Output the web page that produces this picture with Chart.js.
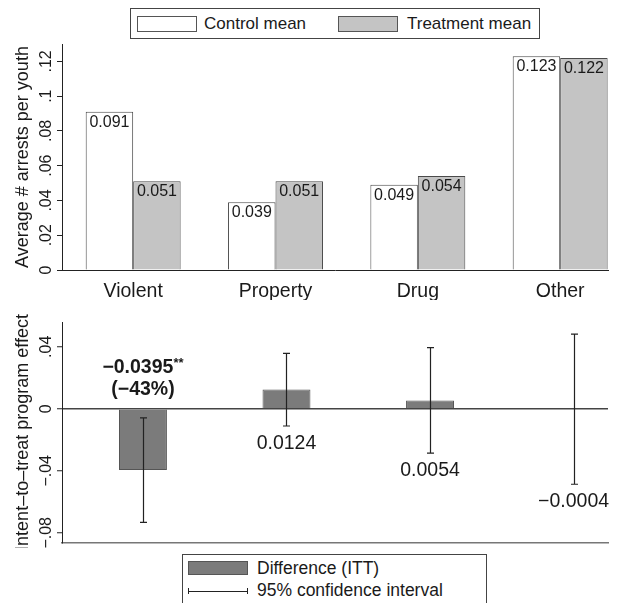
<!DOCTYPE html>
<html>
<head>
<meta charset="utf-8">
<script src="https://cdn.jsdelivr.net/npm/chart.js@4.4.1/dist/chart.umd.min.js"></script>
<style>
body { margin: 0; background: #fff; font-family: "Liberation Sans", Arial, sans-serif; color: #1a1a1a; }
#wrap { position: relative; width: 621px; height: 603px; overflow: hidden; background: #fff; }
canvas { position: absolute; left: 0; }
.box { position: absolute; border: 1px solid #444; box-sizing: border-box; }
.sw { position: absolute; border: 1px solid #555; box-sizing: border-box; }
.lt { position: absolute; font-size: 17px; line-height: 20px; white-space: nowrap; color: #1a1a1a; }
.ln { position: absolute; background: #222; }
</style>
</head>
<body>
<div id="wrap">
  <div class="box" style="left:130px;top:8px;width:410px;height:31px;"></div>
  <div class="sw" style="left:137px;top:16px;width:60px;height:16px;background:#fff;"></div>
  <div class="lt" style="left:204px;top:13.7px;">Control mean</div>
  <div class="sw" style="left:338px;top:16px;width:60px;height:16px;background:#c4c4c4;"></div>
  <div class="lt" style="left:407px;top:13.7px;">Treatment mean</div>

  <canvas id="topChart" width="621" height="260" style="top:40px;"></canvas>
  <canvas id="bottomChart" width="621" height="248" style="top:300px;"></canvas>

  <div class="box" style="left:182px;top:554px;width:305px;height:70px;"></div>
  <div class="sw" style="left:188px;top:561px;width:60px;height:14px;background:#7b7b7b;"></div>
  <div class="lt" style="left:257px;top:557.7px;font-size:17.5px;">Difference (ITT)</div>
  <div class="ln" style="left:188px;top:590.5px;width:60px;height:1px;"></div>
  <div class="ln" style="left:188px;top:588px;width:1px;height:6px;"></div>
  <div class="ln" style="left:247px;top:588px;width:1px;height:6px;"></div>
  <div class="lt" style="left:257px;top:579.7px;font-size:17.5px;">95% confidence interval</div>
</div>

<script>
var categories = ['Violent', 'Property', 'Drug', 'Other'];
var controlMean = [0.091, 0.039, 0.049, 0.123];
var treatmentMean = [0.051, 0.051, 0.054, 0.122];

var ittEffect = [-0.0395, 0.0124, 0.0054, -0.0004];
var ciLow = [-0.0733, -0.0111, -0.0286, -0.0487];
var ciHigh = [-0.0058, 0.0357, 0.0395, 0.0482];
var ittLabels = ['\u22120.0395', '0.0124', '0.0054', '\u22120.0004'];
var ittStars = ['**', '', '', ''];
var ittPercent = ['(\u221243%)', '', '', ''];

var topTicks = [0, 0.02, 0.04, 0.06, 0.08, 0.1, 0.12];
var topTickLabels = ['0', '.02', '.04', '.06', '.08', '.1', '.12'];
var bottomTicks = [-0.08, -0.04, 0, 0.04];
var bottomTickLabels = ['\u2212.08', '\u2212.04', '0', '.04'];

Chart.defaults.font.family = '"Liberation Sans", Arial, sans-serif';
Chart.defaults.color = '#1a1a1a';

// rotated y tick labels, stata style
function tickTextPlugin(values, labels) {
    return {
        id: 'tickText',
        afterDraw: function (chart) {
            var ctx = chart.ctx;
            var ys = chart.scales.y;
            ctx.save();
            ctx.font = '16px "Liberation Sans", Arial, sans-serif';
            ctx.fillStyle = '#1a1a1a';
            ctx.textAlign = 'center';
            ctx.textBaseline = 'middle';
            for (var i = 0; i < values.length; i++) {
                var py = ys.getPixelForValue(values[i]);
                ctx.save();
                ctx.translate(46.5, py);
                ctx.rotate(-Math.PI / 2);
                ctx.fillText(labels[i], 0, 0);
                ctx.restore();
            }
            ctx.restore();
        }
    };
}

var barLabels = {
    id: 'barLabels',
    afterDatasetsDraw: function (chart) {
        var ctx = chart.ctx;
        ctx.save();
        ctx.font = '16px "Liberation Sans", Arial, sans-serif';
        ctx.fillStyle = '#1a1a1a';
        ctx.textAlign = 'center';
        ctx.textBaseline = 'middle';
        chart.data.datasets.forEach(function (ds, d) {
            chart.getDatasetMeta(d).data.forEach(function (bar, i) {
                ctx.fillText(ds.data[i].y.toFixed(3), bar.x, bar.y + 10.5);
            });
        });
        ctx.restore();
    }
};

var errorBars = {
    id: 'errorBars',
    afterDatasetsDraw: function (chart) {
        var ctx = chart.ctx;
        var ys = chart.scales.y;
        var meta = chart.getDatasetMeta(0);
        ctx.save();
        ctx.strokeStyle = '#222';
        ctx.lineWidth = 1.2;
        meta.data.forEach(function (bar, i) {
            var x = Math.round(bar.x) + 0.5;
            var y1 = ys.getPixelForValue(ciHigh[i]);
            var y2 = ys.getPixelForValue(ciLow[i]);
            ctx.beginPath();
            ctx.moveTo(x, y1); ctx.lineTo(x, y2);
            ctx.moveTo(x - 3.5, y1); ctx.lineTo(x + 3.5, y1);
            ctx.moveTo(x - 3.5, y2); ctx.lineTo(x + 3.5, y2);
            ctx.stroke();
        });
        ctx.restore();
    }
};

var ittText = {
    id: 'ittText',
    afterDatasetsDraw: function (chart) {
        var ctx = chart.ctx;
        var ys = chart.scales.y;
        var meta = chart.getDatasetMeta(0);
        var zero = ys.getPixelForValue(0);
        ctx.save();
        ctx.fillStyle = '#1a1a1a';
        ctx.textBaseline = 'middle';
        meta.data.forEach(function (bar, i) {
            if (ciHigh[i] < 0) {
                // significant: bold, above the zero line
                var fMain = 'bold 19.5px "Liberation Sans", Arial, sans-serif';
                var fStar = 'bold 13px "Liberation Sans", Arial, sans-serif';
                ctx.font = fMain;
                var w1 = ctx.measureText(ittLabels[i]).width;
                ctx.font = fStar;
                var w2 = ctx.measureText(ittStars[i]).width;
                var x0 = bar.x - (w1 + w2) / 2;
                ctx.textAlign = 'left';
                ctx.font = fMain;
                ctx.fillText(ittLabels[i], x0, zero - 41);
                ctx.font = fStar;
                ctx.fillText(ittStars[i], x0 + w1, zero - 45);
                ctx.font = fMain;
                ctx.textAlign = 'center';
                ctx.fillText(ittPercent[i], bar.x, zero - 19);
            } else {
                ctx.font = '19.5px "Liberation Sans", Arial, sans-serif';
                ctx.textAlign = 'center';
                ctx.fillText(ittLabels[i], bar.x, ys.getPixelForValue(ciLow[i]) + 17.5);
            }
        });
        ctx.restore();
    }
};

new Chart(document.getElementById('topChart'), {
    type: 'bar',
    data: {
        datasets: [{
            label: 'Control mean',
            data: controlMean.map(function (v, i) { return { x: i, y: v }; }),
            backgroundColor: '#ffffff',
            borderColor: '#4a4a4a',
            borderWidth: 1,
            categoryPercentage: 0.667,
            barPercentage: 1
        }, {
            label: 'Treatment mean',
            data: treatmentMean.map(function (v, i) { return { x: i, y: v }; }),
            backgroundColor: '#c4c4c4',
            borderColor: '#4a4a4a',
            borderWidth: 1,
            categoryPercentage: 0.667,
            barPercentage: 1
        }]
    },
    options: {
        responsive: false,
        animation: false,
        layout: { padding: { top: 4, right: 13, left: 0, bottom: 0 } },
        plugins: { legend: { display: false }, tooltip: { enabled: false } },
        scales: {
            x: {
                type: 'linear', min: -0.5, max: 3.336, offset: false,
                afterBuildTicks: function (s) { s.ticks = categories.map(function (c, i) { return { value: i }; }); },
                afterFit: function (s) { s.height = 30; s.paddingLeft = 0; s.paddingRight = 0; },
                grid: { display: false, offset: false },
                border: { display: true, color: '#222', width: 1 },
                ticks: {
                    padding: 2, autoSkip: false, maxRotation: 0,
                    font: { size: 19.5 }, color: '#1a1a1a',
                    callback: function (v) { return categories[v]; }
                }
            },
            y: {
                min: 0, max: 0.13,
                afterBuildTicks: function (s) { s.ticks = topTicks.map(function (v) { return { value: v }; }); },
                afterFit: function (s) { s.width = 62; s.paddingTop = 0; s.paddingBottom = 0; },
                grid: { drawOnChartArea: false, tickLength: 5, tickColor: '#222' },
                border: { display: true, color: '#222', width: 1 },
                ticks: { display: false },
                title: {
                    display: true, text: 'Average # arrests per youth',
                    font: { size: 18 }, color: '#1a1a1a', padding: { top: 12.5, bottom: 0 }
                }
            }
        }
    },
    plugins: [barLabels, tickTextPlugin(topTicks, topTickLabels)]
});

new Chart(document.getElementById('bottomChart'), {
    type: 'bar',
    data: {
        datasets: [{
            label: 'Difference (ITT)',
            data: ittEffect.map(function (v, i) { return { x: i, y: v }; }),
            backgroundColor: '#7b7b7b',
            borderColor: '#555555',
            borderWidth: 1,
            categoryPercentage: 0.334,
            barPercentage: 1
        }]
    },
    options: {
        responsive: false,
        animation: false,
        layout: { padding: { top: 22, right: 13, left: 0, bottom: 0 } },
        plugins: { legend: { display: false }, tooltip: { enabled: false } },
        scales: {
            x: {
                type: 'linear', min: -0.564, max: 3.24, offset: false,
                afterBuildTicks: function (s) { s.ticks = categories.map(function (c, i) { return { value: i }; }); },
                afterFit: function (s) { s.height = 5; s.paddingLeft = 0; s.paddingRight = 0; },
                grid: { display: false, offset: false },
                border: { display: true, color: '#777', width: 1.5 },
                ticks: { display: false }
            },
            y: {
                min: -0.0866, max: 0.056,
                afterBuildTicks: function (s) { s.ticks = bottomTicks.map(function (v) { return { value: v }; }); },
                afterFit: function (s) { s.width = 62; s.paddingTop = 0; s.paddingBottom = 0; },
                grid: {
                    drawOnChartArea: true, tickLength: 5, tickColor: '#222', tickWidth: 1,
                    lineWidth: 1.5,
                    color: function (c) { return c.tick && c.tick.value === 0 ? '#444' : 'rgba(0,0,0,0)'; }
                },
                border: { display: true, color: '#222', width: 1 },
                ticks: { display: false },
                title: {
                    display: true, text: 'Intent\u2013to\u2013treat program effect',
                    font: { size: 18 }, color: '#1a1a1a', padding: { top: 12.5, bottom: 0 }
                }
            }
        }
    },
    plugins: [errorBars, ittText, tickTextPlugin(bottomTicks, bottomTickLabels)]
});
</script>
</body>
</html>
